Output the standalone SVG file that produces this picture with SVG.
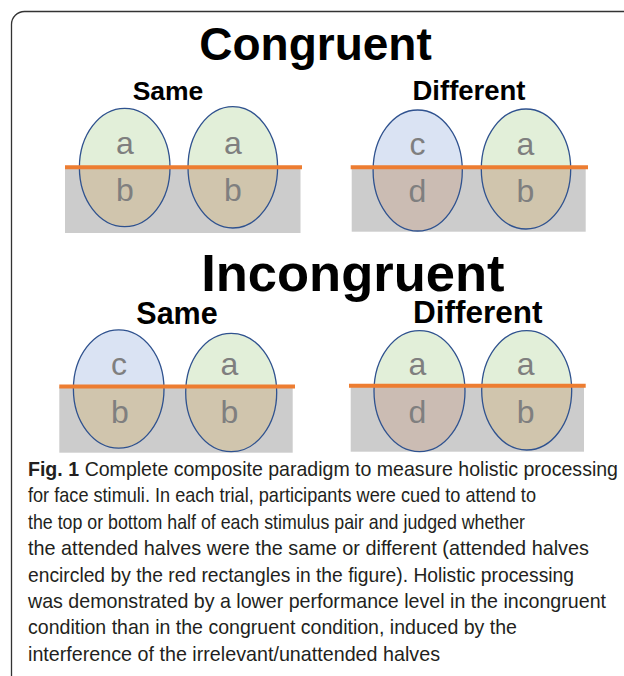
<svg xmlns="http://www.w3.org/2000/svg" width="624" height="676" viewBox="0 0 624 676">
<style>
.title{font-family:"Liberation Sans",Arial,sans-serif;font-weight:bold;fill:#000;text-anchor:middle}
.lbl{font-family:"Liberation Sans",Arial,sans-serif;font-size:32px;fill:#7f7f7f;text-anchor:middle}
.gray{fill:#cccccc}
.cue{stroke:#ed7d31;stroke-width:4;fill:none}
.outl{fill:none;stroke:#2f528f;stroke-width:1.3}
.ga{fill:#e2efd9}
.bc{fill:#dae3f3}
.tb{fill:#d0c5ad}
.pd{fill:#cbbcb3}
.cap{font-family:"Liberation Sans",Arial,sans-serif;font-size:21px;fill:#231f20}
</style>
<defs>
<clipPath id="top1"><rect x="0" y="0" width="624" height="167.3"/></clipPath>
<clipPath id="top2"><rect x="0" y="0" width="624" height="386.2"/></clipPath>
</defs>
<rect width="624" height="676" fill="#fff"/>
<path d="M624 11.5 H24.5 A13 13 0 0 0 11.5 24.5 V676" fill="none" stroke="#333" stroke-width="1.3"/>

<g id="congruent-heading">
<text class="title" x="315.5" y="60" font-size="46">Congruent</text>
<text class="title" x="168" y="100" font-size="26.5">Same</text>
<text class="title" x="469" y="99.5" font-size="27.5">Different</text>
</g>

<g id="congruent-same">
<rect class="gray" x="65" y="167" width="235.5" height="66"/>
<ellipse class="tb" cx="124.7" cy="167.5" rx="45.3" ry="59.2"/>
<ellipse class="ga" cx="124.7" cy="167.5" rx="45.3" ry="59.2" clip-path="url(#top1)"/>
<ellipse class="outl" cx="124.7" cy="167.5" rx="45.3" ry="59.2"/>
<ellipse class="tb" cx="232.8" cy="167.3" rx="44.8" ry="60.7"/>
<ellipse class="ga" cx="232.8" cy="167.3" rx="44.8" ry="60.7" clip-path="url(#top1)"/>
<ellipse class="outl" cx="232.8" cy="167.3" rx="44.8" ry="60.7"/>
<line class="cue" x1="65" y1="167.3" x2="302" y2="167.3"/>
<text class="lbl" x="125" y="154">a</text>
<text class="lbl" x="125" y="200.7">b</text>
<text class="lbl" x="233" y="154">a</text>
<text class="lbl" x="233" y="200.7">b</text>
</g>

<g id="congruent-different">
<rect class="gray" x="351.7" y="167" width="234" height="64.7"/>
<ellipse class="pd" cx="417.7" cy="170.5" rx="44.6" ry="60.5"/>
<ellipse class="bc" cx="417.7" cy="170.5" rx="44.6" ry="60.5" clip-path="url(#top1)"/>
<ellipse class="outl" cx="417.7" cy="170.5" rx="44.6" ry="60.5"/>
<ellipse class="tb" cx="526" cy="169" rx="44.7" ry="60"/>
<ellipse class="ga" cx="526" cy="169" rx="44.7" ry="60" clip-path="url(#top1)"/>
<ellipse class="outl" cx="526" cy="169" rx="44.7" ry="60"/>
<line class="cue" x1="350.7" y1="167.3" x2="588" y2="167.3"/>
<text class="lbl" x="417.5" y="155">c</text>
<text class="lbl" x="417.5" y="201.7">d</text>
<text class="lbl" x="525.5" y="155">a</text>
<text class="lbl" x="525.5" y="201.7">b</text>
</g>

<g id="incongruent-heading">
<text class="title" x="352.8" y="291" font-size="52.5">Incongruent</text>
<text class="title" x="177" y="323.5" font-size="30.5">Same</text>
<text class="title" x="477.8" y="323" font-size="31.5">Different</text>
</g>

<g id="incongruent-same">
<rect class="gray" x="59.3" y="386.5" width="233.4" height="66.2"/>
<ellipse class="tb" cx="118.7" cy="389" rx="45.3" ry="59.2"/>
<ellipse class="bc" cx="118.7" cy="389" rx="45.3" ry="59.2" clip-path="url(#top2)"/>
<ellipse class="outl" cx="118.7" cy="389" rx="45.3" ry="59.2"/>
<ellipse class="tb" cx="231.2" cy="392.5" rx="45.5" ry="59.2"/>
<ellipse class="ga" cx="231.2" cy="392.5" rx="45.5" ry="59.2" clip-path="url(#top2)"/>
<ellipse class="outl" cx="231.2" cy="392.5" rx="45.5" ry="59.2"/>
<line class="cue" x1="59.3" y1="386.5" x2="295" y2="386.5"/>
<text class="lbl" x="119" y="374.5">c</text>
<text class="lbl" x="120" y="423.3">b</text>
<text class="lbl" x="229.5" y="375">a</text>
<text class="lbl" x="229.5" y="423.3">b</text>
</g>

<g id="incongruent-different">
<rect class="gray" x="350.7" y="386" width="233.3" height="65.7"/>
<ellipse class="pd" cx="419.5" cy="391.2" rx="45.5" ry="60.5"/>
<ellipse class="ga" cx="419.5" cy="391.2" rx="45.5" ry="60.5" clip-path="url(#top2)"/>
<ellipse class="outl" cx="419.5" cy="391.2" rx="45.5" ry="60.5"/>
<ellipse class="tb" cx="526.7" cy="390.3" rx="45" ry="59.7"/>
<ellipse class="ga" cx="526.7" cy="390.3" rx="45" ry="59.7" clip-path="url(#top2)"/>
<ellipse class="outl" cx="526.7" cy="390.3" rx="45" ry="59.7"/>
<line class="cue" x1="349" y1="385.7" x2="585.7" y2="385.7"/>
<text class="lbl" x="417.5" y="374.5">a</text>
<text class="lbl" x="417.5" y="423.3">d</text>
<text class="lbl" x="525.7" y="374.5">a</text>
<text class="lbl" x="525.7" y="423.3">b</text>
</g>

<g id="caption" class="cap">
<text x="28" y="476" textLength="590" lengthAdjust="spacingAndGlyphs"><tspan font-weight="bold">Fig. 1</tspan><tspan dx="6">Complete composite paradigm to measure holistic processing</tspan></text>
<text x="28" y="502.4" textLength="508" lengthAdjust="spacingAndGlyphs">for face stimuli. In each trial, participants were cued to attend to</text>
<text x="28" y="528.8" textLength="497" lengthAdjust="spacingAndGlyphs">the top or bottom half of each stimulus pair and judged whether</text>
<text x="28" y="555.2" textLength="561" lengthAdjust="spacingAndGlyphs">the attended halves were the same or different (attended halves</text>
<text x="28" y="581.6" textLength="546" lengthAdjust="spacingAndGlyphs">encircled by the red rectangles in the figure). Holistic processing</text>
<text x="28" y="608" textLength="578" lengthAdjust="spacingAndGlyphs">was demonstrated by a lower performance level in the incongruent</text>
<text x="28" y="634.4" textLength="489" lengthAdjust="spacingAndGlyphs">condition than in the congruent condition, induced by the</text>
<text x="28" y="660.8" textLength="412" lengthAdjust="spacingAndGlyphs">interference of the irrelevant/unattended halves</text>
</g>
</svg>
